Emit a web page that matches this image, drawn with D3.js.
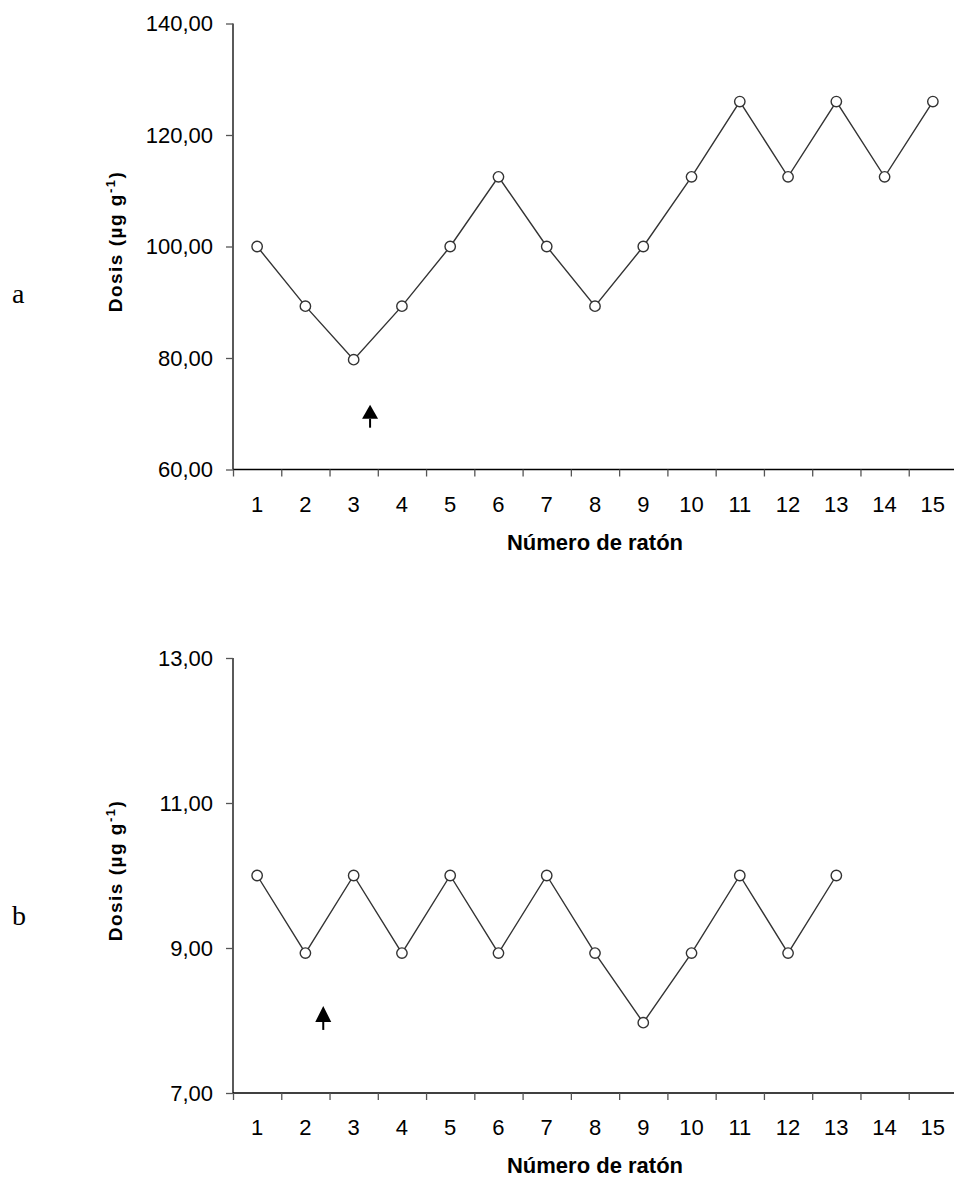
<!DOCTYPE html>
<html>
<head>
<meta charset="utf-8">
<script src="https://cdn.jsdelivr.net/npm/d3@7"></script>
<style>
  body { margin: 0; background: #fff; }
  text { font-family: Arial, "Liberation Sans", sans-serif; fill: #000; }
</style>
</head>
<body>
<div class="chart"></div>
<script>
const ratones = d3.range(1, 16);
const dosisA = [100, 89.3, 79.7, 89.3, 100, 112.5, 100, 89.3, 100, 112.5, 126, 112.5, 126, 112.5, 126];
const dosisB = [10, 8.93, 10, 8.93, 10, 8.93, 10, 8.93, 7.97, 8.93, 10, 8.93, 10];
const ticksA = [60, 80, 100, 120, 140];
const ticksB = [7, 9, 11, 13];
// arrow: position in raton units, tip and tail in dose units
const flechaA = { x: 3.34, tip: 71.6, base: 69.1, tail: 67.5 };
const flechaB = { x: 2.37, tip: 8.2, base: 7.98, tail: 7.87 };

const W = 954, H = 1178;
const coma = d => d3.format('.2f')(d).replace('.', ',');

const svg = d3.select('.chart')
    .append('svg')
        .attr('width', W)
        .attr('height', H);

const x = d3.scaleLinear().domain([0.5, 15.5]).range([233, 957]);

const panel = (letra, datos, yTicks, yTop, yBot, flecha, letraY) => {
    const y = d3.scaleLinear()
        .domain([yTicks[0], yTicks[yTicks.length - 1]])
        .range([yBot, yTop]);
    const g = svg.append('g');

    // y axis
    const yAxis = g.append('g')
        .attr('transform', `translate(${x(0.5)},0)`)
        .call(d3.axisLeft(y).tickValues(yTicks).tickSize(7).tickPadding(13).tickFormat(coma));
    yAxis.select('.domain').attr('stroke', '#000').attr('stroke-width', 1.3).attr('d', `M0,${yTop}V${yBot}`);
    yAxis.selectAll('.tick line').attr('stroke', '#555').attr('stroke-width', 1.3);
    yAxis.selectAll('.tick text').style('font-size', '22px').attr('fill', '#000');

    // x axis
    const xAxis = g.append('g')
        .attr('transform', `translate(0,${yBot})`)
        .call(d3.axisBottom(x).tickValues(d3.range(0.5, 16, 1)).tickSize(7).tickFormat(''));
    xAxis.select('.domain').attr('stroke', '#000').attr('stroke-width', 1.3).attr('d', `M${x(0.5)},0H${x(15.5)}`);
    xAxis.selectAll('.tick line').attr('stroke', '#555').attr('stroke-width', 1.3);
    g.append('g').selectAll('text')
        .data(ratones)
        .enter()
        .append('text')
            .attr('x', d => x(d))
            .attr('y', yBot + 42)
            .attr('text-anchor', 'middle')
            .style('font-size', '22px')
            .text(d => d);

    // titles
    g.append('text')
        .attr('x', (x(0.5) + x(15.5)) / 2)
        .attr('y', yBot + 80)
        .attr('text-anchor', 'middle')
        .style('font-size', '22px')
        .style('font-weight', 'bold')
        .text('Número de ratón');

    const yl = g.append('text')
        .attr('transform', `translate(122,${(yTop + yBot) / 2 - 5}) rotate(-90)`)
        .attr('text-anchor', 'middle')
        .style('font-size', '19px')
        .style('font-weight', 'bold')
        .style('letter-spacing', '1.5px');
    yl.append('tspan').text('Dosis (µg g');
    yl.append('tspan').attr('dy', -7).style('font-size', '13px').text('-1');
    yl.append('tspan').attr('dy', 7).text(')');

    g.append('text')
        .attr('x', 12)
        .attr('y', letraY)
        .style('font-family', '"Liberation Serif", "Times New Roman", serif')
        .style('font-size', '28px')
        .text(letra);

    // series
    const line = d3.line().x((d, i) => x(i + 1)).y(d => y(d));
    g.append('path')
        .datum(datos)
        .attr('d', line)
        .attr('fill', 'none')
        .attr('stroke', '#333')
        .attr('stroke-width', 1.4);
    g.append('g').selectAll('circle')
        .data(datos)
        .enter()
        .append('circle')
            .attr('cx', (d, i) => x(i + 1))
            .attr('cy', d => y(d))
            .attr('r', 5.2)
            .attr('fill', '#fff')
            .attr('stroke', '#333')
            .attr('stroke-width', 1.4);

    // arrow
    const ax = x(flecha.x);
    g.append('line')
        .attr('x1', ax).attr('x2', ax)
        .attr('y1', y(flecha.base)).attr('y2', y(flecha.tail))
        .attr('stroke', '#000')
        .attr('stroke-width', 2);
    g.append('path')
        .attr('d', `M${ax},${y(flecha.tip)}L${ax - 8},${y(flecha.base)}L${ax + 8},${y(flecha.base)}Z`)
        .attr('fill', '#000');
};

panel('a', dosisA, ticksA, 23.5, 469.5, flechaA, 303);
panel('b', dosisB, ticksB, 658, 1093, flechaB, 925);
</script>
</body>
</html>
